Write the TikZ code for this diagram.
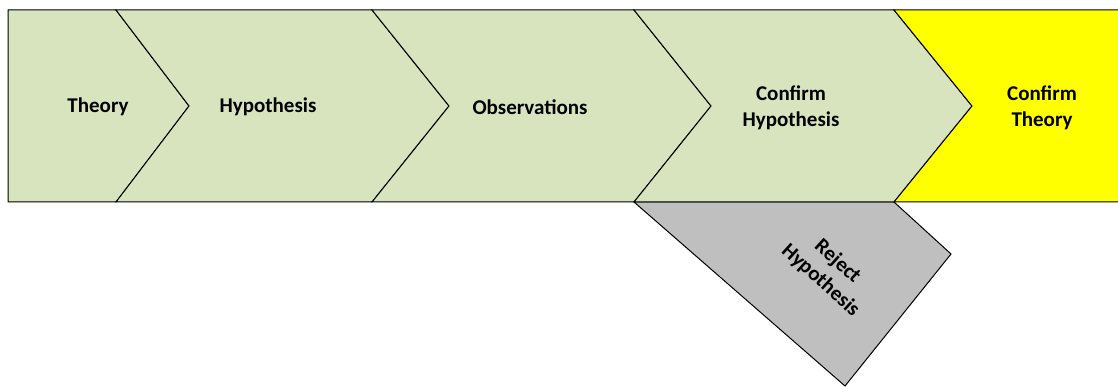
\documentclass[tikz,border=0pt]{standalone}
\usepackage{fontspec}
\setmainfont{Carlito}
\usetikzlibrary{positioning}

\definecolor{stepgreen}{HTML}{D7E4BD}
\definecolor{stepyellow}{HTML}{FFFF00}
\definecolor{stepgrey}{HTML}{BFBFBF}

\begin{document}
\begin{tikzpicture}[x=1pt, y=-1pt,
  chevron/.style={draw=black, line width=1pt, line join=miter},
  step text/.style={font=\fontsize{21}{25.5}\selectfont\bfseries, align=center, inner sep=0pt}]
\clip (0,0) rectangle (1118,387);

% reject branch, hanging under the bar
\draw[chevron, fill=stepgrey] (634,202) -- (894,202) -- (951,254) -- (845,386) -- cycle;

% first chevron has a flat back
\draw[chevron, fill=stepgreen] (8,10) -- (116,10) -- (189,106) -- (116,202) -- (8,202) -- cycle;
% the middle ones: back x / notch x / front x / tip x
\foreach \l/\n/\r/\p in {116/189/372/449, 372/449/634/711, 634/711/894/972}
  \draw[chevron, fill=stepgreen] (\l,10) -- (\r,10) -- (\p,106) -- (\r,202) -- (\l,202) -- (\n,106) -- cycle;
% last one runs off the right edge
\draw[chevron, fill=stepyellow] (894,10) -- (1125,10) -- (1125,202) -- (894,202) -- (972,106) -- cycle;

\node[step text] (theory) at (98,107) {Theory};
\node[step text] (hypo) at (268,107) {Hypothesis};
\node[step text] (obs) at (530,107) {Observations};
\node[step text] (confhypo) at (791,108) {Confirm\\Hypothesis};
\node[step text] (conftheory) at (1042,108) {Confirm\\Theory};
\node[step text, rotate=-42] (reject) at (829,271) {Reject\\Hypothesis};
\end{tikzpicture}
\end{document}
